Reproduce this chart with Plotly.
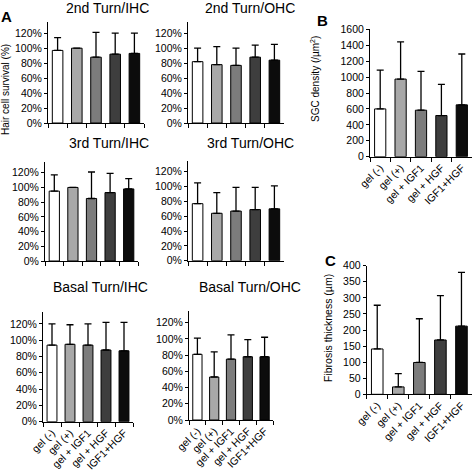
import plotly.graph_objects as go

W, H = 472, 473

groups = ["gel (-)", "gel (+)", "gel + IGF1", "gel + HGF", "IGF1+HGF"]
bar_colors = ["#ffffff", "#a8a8a8", "#7c7c7c", "#3e3e3e", "#0c0c0c"]

# Hair cell survival (%) means and upper SD
turn2_ihc = [97, 100, 88, 92, 93]
turn2_ihc_sd = [17, 0, 33, 28, 27]
turn2_ohc = [82, 78, 77, 88, 84]
turn2_ohc_sd = [18, 24, 23, 16, 21]
turn3_ihc = [95, 100, 85, 93, 98]
turn3_ihc_sd = [22, 0, 36, 26, 14]
turn3_ohc = [77, 64, 67, 69, 70]
turn3_ohc_sd = [28, 28, 32, 30, 31]
basal_ihc = [94, 95, 94, 88, 87]
basal_ihc_sd = [26, 24, 26, 34, 35]
basal_ohc = [81, 53, 75, 78, 78]
basal_ohc_sd = [20, 31, 30, 21, 24]

# SGC density
sgc = [600, 975, 584, 517, 651]
sgc_sd = [488, 466, 487, 391, 639]

# Fibrosis thickness
fib = [141, 23, 99, 169, 212]
fib_sd = [136, 41, 136, 138, 167]

pct_ticks = [0, 20, 40, 60, 80, 100, 120]
pct_labels = ["0%", "20%", "40%", "60%", "80%", "100%", "120%"]

FONT = "Arial, Liberation Sans, Helvetica, sans-serif"

def dom_x(a, b):
    return [a / W, min(b / W, 1.0)]

def dom_y(top, bottom):
    return [1 - bottom / H, 1 - top / H]

panels = [
    # (values, sd, xdomain px, ydomain px (top,bottom), ymax, showxlabels, is_pct, dtick)
    (turn2_ihc, turn2_ihc_sd, (48, 144), (22, 123), 135, False, True, 20),
    (turn2_ohc, turn2_ohc_sd, (188, 284), (22, 123), 135, False, True, 20),
    (turn3_ihc, turn3_ihc_sd, (45, 138), (161.7, 261), 135, False, True, 20),
    (turn3_ohc, turn3_ohc_sd, (188, 284), (160.7, 260.7), 135, False, True, 20),
    (basal_ihc, basal_ihc_sd, (43, 133), (311.7, 421.7), 135, True, True, 20),
    (basal_ohc, basal_ohc_sd, (189, 273), (310.5, 420), 135, True, True, 20),
    (sgc, sgc_sd, (370, 472), (29.3, 156.7), 1600, True, False, 200),
    (fib, fib_sd, (366.7, 472), (265.7, 394.3), 400, True, False, 50),
]

fig = go.Figure()
layout = dict(
    width=W, height=H, autosize=False,
    margin=dict(l=0, r=0, t=0, b=0, pad=0),
    paper_bgcolor="white", plot_bgcolor="white",
    showlegend=False, bargap=0.45,
    font=dict(family=FONT, size=10, color="black"),
)

for i, (vals, sd, xd, yd, ymax, showx, is_pct, dt) in enumerate(panels):
    n = i + 1
    xa = "x" if n == 1 else f"x{n}"
    ya = "y" if n == 1 else f"y{n}"
    fig.add_trace(go.Bar(
        x=groups, y=vals, xaxis=xa, yaxis=ya,
        marker=dict(color=bar_colors, line=dict(color="black", width=1)),
        error_y=dict(type="data", symmetric=False, array=sd,
                     arrayminus=[0] * len(sd), color="black",
                     thickness=1.3, width=3.5),
        hoverinfo="skip",
    ))
    xkey = "xaxis" if n == 1 else f"xaxis{n}"
    ykey = "yaxis" if n == 1 else f"yaxis{n}"
    layout[xkey] = dict(
        domain=dom_x(*xd), anchor=ya, type="category", automargin=False,
        showline=True, linecolor="black", linewidth=1,
        ticks="outside", ticklen=4, tickcolor="black", tickson="boundaries",
        showgrid=False, zeroline=False,
        showticklabels=showx, tickangle=-45,
        tickfont=dict(family=FONT, size=10.5, color="black"),
    )
    yax = dict(
        domain=dom_y(*yd), anchor=xa, range=[0, ymax], automargin=False,
        showline=True, linecolor="black", linewidth=1,
        ticks="outside", ticklen=3, tickcolor="black",
        showgrid=False, zeroline=False,
        tickfont=dict(family=FONT, size=10.5, color="black"),
    )
    if is_pct:
        yax.update(tickmode="array", tickvals=pct_ticks, ticktext=pct_labels)
    else:
        yax.update(tickmode="linear", tick0=0, dtick=dt)
    layout[ykey] = yax

fig.update_layout(**layout)

def ann(text, px, py, size=14, bold=False, angle=0, xanchor="center"):
    fig.add_annotation(
        text=f"<b>{text}</b>" if bold else text,
        x=px / W, y=1 - py / H, xref="paper", yref="paper",
        showarrow=False, textangle=angle, xanchor=xanchor, yanchor="middle",
        font=dict(family=FONT, size=size, color="black"),
    )

ann("2nd Turn/IHC", 107, 8)
ann("2nd Turn/OHC", 250, 8)
ann("3rd Turn/IHC", 109, 143)
ann("3rd Turn/OHC", 250, 143)
ann("Basal Turn/IHC", 100, 287)
ann("Basal Turn/OHC", 250, 287)
ann("A", 6, 17, size=15, bold=True)
ann("B", 322, 20, size=15, bold=True)
ann("C", 330, 260, size=15, bold=True)
ann("Hair cell survival (%)", 6, 90, size=10, angle=-90)
ann("SGC density (/µm<sup>2</sup>)", 315, 79, size=10, angle=-90)
ann("Fibrosis thickness (µm)", 328, 328, size=10.5, angle=-90)

fig.write_html(
    "out.html",
    config={"displayModeBar": False},
    post_script="document.body.style.margin='0';document.body.style.overflow='hidden';",
)
